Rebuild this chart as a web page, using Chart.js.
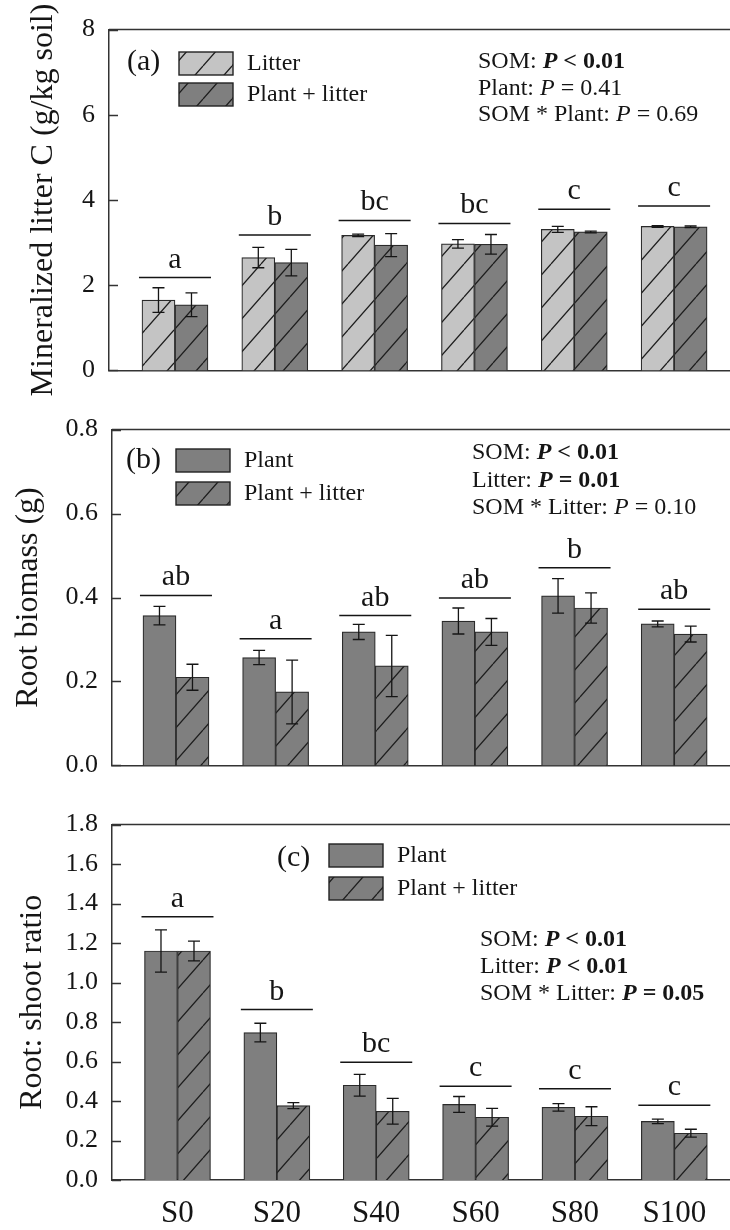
<!DOCTYPE html>
<html>
<head>
<meta charset="utf-8">
<script src="https://cdn.jsdelivr.net/npm/chart.js@4.4.0/dist/chart.umd.min.js"></script>
<style>
  html, body { margin: 0; padding: 0; background: #fff; overflow: hidden; }
  canvas { display: block; }
</style>
</head>
<body>
<canvas id="chartA" width="730" height="400"></canvas>
<canvas id="chartB" width="730" height="395"></canvas>
<canvas id="chartC" width="730" height="435"></canvas>
<script>
// categories (SOM levels)
const categories = ['S0', 'S20', 'S40', 'S60', 'S80', 'S100'];

// (a) mineralized litter C, g/kg soil
const litterA = [1.65, 2.65, 3.17, 2.97, 3.31, 3.38];
const litterA_err = [0.29, 0.24, 0.03, 0.10, 0.07, 0.02];
const plantLitterA = [1.54, 2.53, 2.94, 2.96, 3.25, 3.37];
const plantLitterA_err = [0.28, 0.31, 0.27, 0.23, 0.02, 0.02];
const lettersA = ['a', 'b', 'bc', 'bc', 'c', 'c'];
const barLineA = [2.18, 3.18, 3.52, 3.45, 3.78, 3.86];

// (b) root biomass, g
const plantB = [0.357, 0.257, 0.318, 0.344, 0.404, 0.337];
const plantB_err = [0.022, 0.017, 0.018, 0.031, 0.041, 0.007];
const plantLitterB = [0.210, 0.175, 0.237, 0.318, 0.375, 0.313];
const plantLitterB_err = [0.031, 0.076, 0.073, 0.032, 0.036, 0.019];
const lettersB = ['ab', 'a', 'ab', 'ab', 'b', 'ab'];
const barLineB = [0.405, 0.302, 0.357, 0.399, 0.471, 0.372];

// (c) root:shoot ratio
const plantC = [1.16, 0.747, 0.480, 0.383, 0.368, 0.297];
const plantC_err = [0.107, 0.047, 0.055, 0.040, 0.019, 0.011];
const plantLitterC = [1.16, 0.377, 0.348, 0.318, 0.323, 0.237];
const plantLitterC_err = [0.050, 0.015, 0.065, 0.045, 0.048, 0.020];
const lettersC = ['a', 'b', 'bc', 'c', 'c', 'c'];
const barLineC = [1.333, 0.863, 0.597, 0.475, 0.462, 0.378];

// statistics text (n = normal, i = italic, b = bold, bi = bold italic)
const statsA = [
  [['SOM: ', 'n'], ['P', 'bi'], [' < 0.01', 'b']],
  [['Plant: ', 'n'], ['P', 'i'], [' = 0.41', 'n']],
  [['SOM * Plant: ', 'n'], ['P', 'i'], [' = 0.69', 'n']]
];
const statsB = [
  [['SOM: ', 'n'], ['P', 'bi'], [' < 0.01', 'b']],
  [['Litter: ', 'n'], ['P', 'bi'], [' = 0.01', 'b']],
  [['SOM * Litter: ', 'n'], ['P', 'i'], [' = 0.10', 'n']]
];
const statsC = [
  [['SOM: ', 'n'], ['P', 'bi'], [' < 0.01', 'b']],
  [['Litter: ', 'n'], ['P', 'bi'], [' < 0.01', 'b']],
  [['SOM * Litter: ', 'n'], ['P', 'bi'], [' = 0.05', 'b']]
];

const SERIF = '"Liberation Serif", "Times New Roman", serif';
const INK = '#151515';
const LIGHT = '#c4c4c4';
const DARK = '#7f7f7f';

function hatch(ctx, bg) {
  var c = document.createElement('canvas');
  c.width = 29; c.height = 33;
  var g = c.getContext('2d');
  g.fillStyle = bg;
  g.fillRect(0, 0, 29, 33);
  g.strokeStyle = '#1e1e1e';
  g.lineWidth = 1.3;
  g.beginPath();
  g.moveTo(0, 33); g.lineTo(29, 0);
  g.moveTo(-29, 33); g.lineTo(0, 0);
  g.moveTo(29, 33); g.lineTo(58, 0);
  g.stroke();
  return ctx.createPattern(c, 'repeat');
}

function styleFont(s, size) {
  if (s == 'i') return 'italic ' + size + 'px ' + SERIF;
  if (s == 'b') return 'bold ' + size + 'px ' + SERIF;
  if (s == 'bi') return 'italic bold ' + size + 'px ' + SERIF;
  return size + 'px ' + SERIF;
}

const decor = {
  id: 'decor',
  afterDraw(chart, args, o) {
    const ctx = chart.ctx, ca = chart.chartArea;
    const xs = chart.scales.x, ys = chart.scales.y;
    ctx.save();
    ctx.strokeStyle = '#333';
    ctx.lineWidth = 1.5;
    // top frame line
    ctx.beginPath();
    ctx.moveTo(ca.left, ca.top);
    ctx.lineTo(ca.right, ca.top);
    ctx.stroke();
    // inward ticks
    ys.ticks.forEach(t => {
      var py = Math.round(ys.getPixelForValue(t.value)) + 0.5;
      ctx.beginPath();
      ctx.moveTo(ca.left, py);
      ctx.lineTo(ca.left + 9, py);
      ctx.stroke();
    });

    // error bars
    ctx.strokeStyle = INK;
    ctx.lineWidth = 1.3;
    chart.data.datasets.forEach((ds, d) => {
      var meta = chart.getDatasetMeta(d);
      meta.data.forEach((bar, i) => {
        var v = ds.data[i].y, e = o.errors[d][i];
        var yt = ys.getPixelForValue(v + e), yb = ys.getPixelForValue(v - e);
        ctx.beginPath();
        ctx.moveTo(bar.x, yt); ctx.lineTo(bar.x, yb);
        ctx.moveTo(bar.x - 6, yt); ctx.lineTo(bar.x + 6, yt);
        ctx.moveTo(bar.x - 6, yb); ctx.lineTo(bar.x + 6, yb);
        ctx.stroke();
      });
    });

    // significance letters with lines
    ctx.fillStyle = INK;
    ctx.font = '30px ' + SERIF;
    ctx.textAlign = 'center';
    ctx.textBaseline = 'alphabetic';
    o.letters.forEach((l, i) => {
      var cx = xs.getPixelForValue(i + 1), py = ys.getPixelForValue(o.lines[i]);
      ctx.lineWidth = 1.5;
      ctx.beginPath();
      ctx.moveTo(cx - 36, py); ctx.lineTo(cx + 36, py);
      ctx.stroke();
      ctx.fillText(l, cx, py - 10);
    });

    // panel label
    ctx.textAlign = 'left';
    ctx.textBaseline = 'middle';
    ctx.font = '30px ' + SERIF;
    ctx.fillText(o.panel, o.panelX, o.panelY);

    // legend
    var lg = o.legend;
    chart.data.datasets.forEach((ds, d) => {
      var by = lg.y + d * lg.gap;
      ctx.fillStyle = ds.backgroundColor;
      ctx.fillRect(lg.x, by, 54, 23);
      ctx.strokeStyle = '#222';
      ctx.lineWidth = 1.4;
      ctx.strokeRect(lg.x, by, 54, 23);
      ctx.fillStyle = INK;
      ctx.font = '24px ' + SERIF;
      ctx.fillText(ds.label, lg.x + 68, by + 12);
    });

    // statistics
    o.stats.forEach((line, k) => {
      var px = o.statsX, py = o.statsY + k * o.statsGap;
      line.forEach(seg => {
        ctx.font = styleFont(seg[1], 24);
        ctx.fillText(seg[0], px, py);
        px += ctx.measureText(seg[0]).width;
      });
    });
    ctx.restore();
  }
};

function makeChart(id, opts) {
  var canvas = document.getElementById(id);
  var ctx = canvas.getContext('2d');
  var datasets = opts.series.map((s, d) => ({
    label: s.label,
    data: s.values.map((v, i) => ({ x: i + 1, y: v })),
    backgroundColor: s.hatched ? hatch(ctx, s.color) : s.color,
    borderColor: '#2a2a2a',
    borderWidth: 1.2,
    barThickness: 33
  }));
  return new Chart(ctx, {
    type: 'bar',
    data: { datasets: datasets },
    options: {
      responsive: false,
      animation: false,
      devicePixelRatio: 1,
      events: [],
      layout: { padding: { top: opts.top, right: 0, bottom: 0, left: 0 } },
      plugins: {
        legend: { display: false },
        tooltip: { enabled: false },
        decor: opts.decor
      },
      scales: {
        x: {
          type: 'linear',
          offset: false,
          min: opts.xmin,
          max: 6.56,
          grid: { display: false, drawTicks: false },
          border: { display: true, color: '#333', width: 1.5 },
          afterBuildTicks: s => { s.ticks = categories.map((c, i) => ({ value: i + 1 })); },
          afterFit: s => { s.height = opts.xHeight; },
          ticks: {
            display: opts.showX,
            autoSkip: false,
            maxRotation: 0,
            padding: 15,
            color: INK,
            font: { family: SERIF, size: 31 },
            callback: v => categories[v - 1]
          }
        },
        y: {
          min: 0,
          max: opts.ymax,
          grid: { display: false, drawTicks: false },
          border: { display: true, color: '#333', width: 1.5 },
          afterFit: s => { s.width = opts.yWidth; },
          ticks: {
            stepSize: opts.step,
            padding: 14,
            color: INK,
            font: { family: SERIF, size: 26 },
            callback: v => opts.decimals ? Number(v).toFixed(opts.decimals) : v
          },
          title: {
            display: true,
            text: opts.ytitle,
            color: INK,
            font: { family: SERIF, size: 32 },
            padding: { top: opts.titlePad, bottom: 0 }
          }
        }
      }
    },
    plugins: [decor]
  });
}

makeChart('chartA', {
  series: [
    { label: 'Litter', values: litterA, color: LIGHT, hatched: true },
    { label: 'Plant + litter', values: plantLitterA, color: DARK, hatched: true }
  ],
  top: 26, xHeight: 14, yWidth: 109, xmin: 0.339, showX: false,
  ymax: 8, step: 2, decimals: 0, titlePad: 24,
  ytitle: 'Mineralized litter C (g/kg soil)',
  decor: {
    errors: [litterA_err, plantLitterA_err], letters: lettersA, lines: barLineA,
    panel: '(a)', panelX: 127, panelY: 62,
    legend: { x: 179, y: 52, gap: 31 },
    stats: statsA, statsX: 478, statsY: 62, statsGap: 26.5
  }
});

makeChart('chartB', {
  series: [
    { label: 'Plant', values: plantB, color: DARK, hatched: false },
    { label: 'Plant + litter', values: plantLitterB, color: DARK, hatched: true }
  ],
  top: 23, xHeight: 13, yWidth: 112, xmin: 0.358, showX: false,
  ymax: 0.8, step: 0.2, decimals: 1, titlePad: 9,
  ytitle: 'Root biomass (g)',
  decor: {
    errors: [plantB_err, plantLitterB_err], letters: lettersB, lines: barLineB,
    panel: '(b)', panelX: 126, panelY: 60,
    legend: { x: 176, y: 49, gap: 33 },
    stats: statsB, statsX: 472, statsY: 53, statsGap: 27.5
  }
});

makeChart('chartC', {
  series: [
    { label: 'Plant', values: plantC, color: DARK, hatched: false },
    { label: 'Plant + litter', values: plantLitterC, color: DARK, hatched: true }
  ],
  top: 25, xHeight: 50, yWidth: 112, xmin: 0.341, showX: true,
  ymax: 1.8, step: 0.2, decimals: 1, titlePad: 13,
  ytitle: 'Root: shoot ratio',
  decor: {
    errors: [plantC_err, plantLitterC_err], letters: lettersC, lines: barLineC,
    panel: '(c)', panelX: 277, panelY: 63,
    legend: { x: 329, y: 49, gap: 33 },
    stats: statsC, statsX: 480, statsY: 145, statsGap: 27
  }
});
</script>
</body>
</html>
